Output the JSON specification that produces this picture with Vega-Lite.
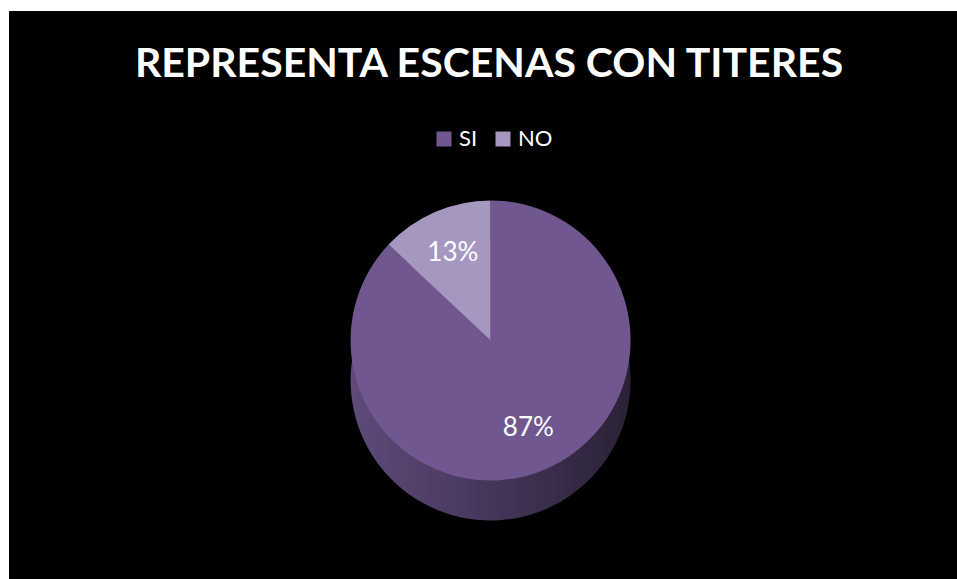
{
  "$schema": "https://vega.github.io/schema/vega-lite/v6.json",
  "width": 948,
  "height": 568,
  "autosize": {"type": "none"},
  "padding": {"left": 9, "top": 11, "right": 0, "bottom": 0},
  "background": "white",
  "view": {"fill": "black", "stroke": "black"},
  "config": {
    "font": "Lato"
  },
  "title": {
    "text": "REPRESENTA ESCENAS CON TITERES",
    "orient": "top",
    "anchor": "middle",
    "offset": -75,
    "dx": 6,
    "font": "Lato",
    "fontSize": 41,
    "fontWeight": "bold",
    "color": "white"
  },
  "data": {
    "values": [
      {"respuesta": "SI", "porcentaje": 87, "etiqueta": "87%"},
      {"respuesta": "NO", "porcentaje": 13, "etiqueta": "13%"}
    ]
  },
  "encoding": {
    "theta": {"field": "porcentaje", "type": "quantitative", "stack": true},
    "order": {"field": "porcentaje", "type": "quantitative", "sort": "descending"}
  },
  "layer": [
    {
      "mark": {
        "type": "arc",
        "outerRadius": 140,
        "x": {"expr": "width*0.508"},
        "y": {"expr": "height*0.58"},
        "yOffset": 40,
        "fill": {
          "gradient": "linear",
          "x1": 0, "y1": 0.5, "x2": 1, "y2": 0.5,
          "stops": [
            {"offset": 0, "color": "#5f4a7a"},
            {"offset": 0.5, "color": "#45365a"},
            {"offset": 1, "color": "#2a2136"}
          ]
        }
      },
      "encoding": {"detail": {"field": "respuesta"}}
    },
    {
      "mark": {
        "type": "arc",
        "outerRadius": 140,
        "x": {"expr": "width*0.508"},
        "y": {"expr": "height*0.58"}
      },
      "encoding": {
        "color": {
          "field": "respuesta",
          "type": "nominal",
          "scale": {"domain": ["SI", "NO"], "range": ["#71578f", "#a697c1"]},
          "legend": {
            "title": null,
            "orient": "none",
            "direction": "horizontal",
            "legendX": 424,
            "legendY": 117,
            "symbolType": "square",
            "symbolSize": 225,
            "symbolStrokeWidth": 0,
            "labelColor": "white",
            "labelFont": "Lato",
            "labelFontSize": 22,
            "columnPadding": 14,
            "labelOffset": 4
          }
        }
      }
    },
    {
      "mark": {
        "type": "text",
        "radius": 95,
        "x": {"expr": "width*0.508"},
        "y": {"expr": "height*0.58"},
        "fontSize": 26,
        "font": "Lato",
        "color": "white"
      },
      "encoding": {
        "text": {"field": "etiqueta"},
        "detail": {"field": "respuesta"}
      }
    }
  ]
}
